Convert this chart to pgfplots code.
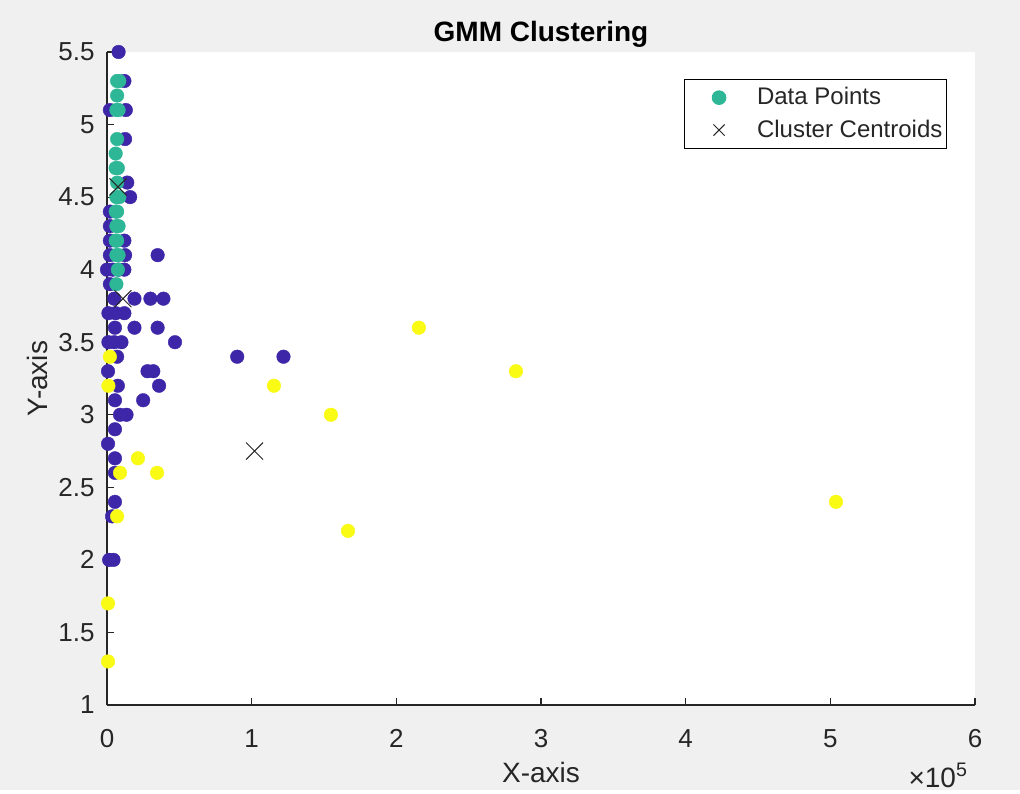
\documentclass[border=0pt]{standalone}
\usepackage{pgfplots}
\pgfplotsset{compat=1.18}
\usepackage{fontspec}
\setmainfont{Liberation Sans}
\definecolor{pblue}{RGB}{62,38,168}
\definecolor{pteal}{RGB}{46,183,151}
\definecolor{pyellow}{RGB}{249,251,20}
\definecolor{bg}{RGB}{240,240,240}
\definecolor{axc}{RGB}{38,38,38}
\begin{document}
\begin{tikzpicture}
\fill[bg] (-53.5pt,-42.5pt) rectangle (456.5pt,352.5pt);
\begin{axis}[
  at={(0pt,0pt)}, anchor=south west,
  scale only axis, width=434pt, height=326.5pt,
  xmin=0, xmax=600000, ymin=1, ymax=5.5,
  scaled x ticks=false, scaled y ticks=false,
  axis background/.style={fill=white},
  axis x line*=bottom, axis y line*=left,
  axis line style={-, axc, line width=0.6pt},
  tick align=inside, major tick length=3.5pt,
  tick style={axc, line width=0.6pt},
  xtick={0,100000,200000,300000,400000,500000,600000},
  xticklabels={0,1,2,3,4,5,6},
  ytick={1,1.5,2,2.5,3,3.5,4,4.5,5,5.5},
  yticklabels={1,1.5,2,2.5,3,3.5,4,4.5,5,5.5},
  ticklabel style={font=\fontsize{13}{15}\selectfont, text=axc},
  xticklabel style={anchor=base, yshift=-21pt},
  yticklabel style={anchor=east, xshift=-2.7pt},
  xlabel={X-axis}, ylabel={Y-axis},
  label style={font=\fontsize{14}{16}\selectfont, text=axc},
  xlabel style={at={(axis description cs:0.5,-0.118)}, anchor=base},
  ylabel style={at={(axis description cs:-0.068,0.5)}, anchor=base},
  title={GMM Clustering},
  every axis title shift=0pt,
  title style={font=\fontsize{14}{16}\selectfont\bfseries, at={(axis description cs:0.5,1)}, anchor=base, yshift=5pt},
  clip=false,
  legend style={at={(axis description cs:0.9677,0.9587)}, anchor=north east,
    draw=black, line width=0.5pt, fill=white,
    font=\fontsize{12}{14}\selectfont, text=axc,
    inner xsep=0pt, inner ysep=2pt, row sep=2pt},
  legend cell align=left,
  after end axis/.code={
    \node[anchor=base east, font=\fontsize{14}{16}\selectfont, text=axc] at (axis description cs:1,-0.1256) {×10\textsuperscript{5}};
  },
]
% cluster 1 (dark blue)
\addplot[only marks, mark=*, mark size=3.4pt, color=pblue, mark options={line width=0.2pt}, forget plot] coordinates {
(8000,5.5) (12000,5.3) (2000,5.1) (13000,5.1) (12500,4.9) (14000,4.6) (16000,4.5)
(2000,4.4) (2000,4.3) (2000,4.2) (12000,4.2) (2000,4.1) (12500,4.1) (35000,4.1)
(0,4.0) (4000,4.0) (8000,4.0) (12000,4.0) (2000,3.9)
(5000,3.8) (19000,3.8) (30000,3.8) (39000,3.8)
(1000,3.7) (6000,3.7) (12000,3.7)
(5500,3.6) (19000,3.6) (35000,3.6)
(1000,3.5) (5000,3.5) (10000,3.5) (47000,3.5)
(7000,3.4) (90000,3.4) (122000,3.4)
(700,3.3) (28000,3.3) (32000,3.3)
(7500,3.2) (36000,3.2)
(5500,3.1) (25000,3.1)
(9000,3.0) (13500,3.0) (5500,2.9) (700,2.8) (5500,2.7) (5500,2.6)
(5500,2.4) (3500,2.3) (1500,2.0) (4500,2.0)
};
% cluster 3 (yellow)
\addplot[only marks, mark=*, mark size=3.4pt, color=pyellow, mark options={line width=0.2pt}, forget plot] coordinates {
(215600,3.6) (282700,3.3) (115400,3.2) (154800,3.0) (166600,2.2) (503900,2.4)
(21400,2.7) (34600,2.6) (2000,3.4) (1000,3.2) (9000,2.6) (7000,2.3) (700,1.7) (700,1.3)
};
% cluster 2 (teal)
\addplot[only marks, mark=*, mark size=3.4pt, color=pteal, mark options={line width=0.2pt},
  legend image code/.code={\path[draw=none,fill=none] (-4.5pt,-4pt) rectangle (30pt,4pt); \fill[pteal] (13pt,0pt) circle (3.4pt);}] coordinates {
(7000,5.3) (8500,5.3) (7000,5.2) (6500,5.1) (8000,5.1) (7000,4.9) (6000,4.8)
(7500,4.7) (6000,4.7) (7000,4.6) (6500,4.5) (8500,4.5) (7000,4.4) (6000,4.4)
(6500,4.3) (8000,4.3) (7000,4.2) (6000,4.2) (6500,4.1) (8000,4.1) (7500,4.0) (6500,3.9)
};
\addlegendentry{Data Points}
% centroids
\addplot[only marks, mark=x, mark size=6pt, color=axc, mark options={line width=0.5pt},
  legend image code/.code={\path[draw=none,fill=none] (-4.5pt,-4pt) rectangle (30pt,4pt); \draw[axc, line width=0.5pt] (10.2pt,-2.8pt) -- (15.8pt,2.8pt) (10.2pt,2.8pt) -- (15.8pt,-2.8pt);}] coordinates {
(7600,4.57) (11000,3.8) (102000,2.75)
};
\addlegendentry{Cluster Centroids}
\end{axis}
\end{tikzpicture}
\end{document}
